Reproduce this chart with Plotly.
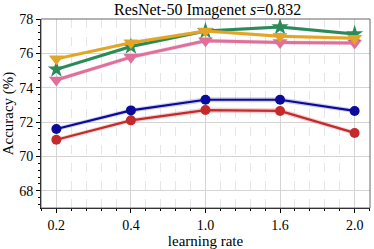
import plotly.graph_objects as go

lr_labels = ["0.2", "0.4", "1.0", "1.6", "2.0"]
x_idx = [0, 1, 2, 3, 4]

blue_vals = [71.6, 72.68, 73.3, 73.3, 72.65]
blue_std = [0.12, 0.12, 0.15, 0.15, 0.12]
red_vals = [70.97, 72.1, 72.7, 72.65, 71.37]
red_std = [0.12, 0.12, 0.15, 0.15, 0.12]
pink_vals = [74.45, 75.78, 76.73, 76.63, 76.6]
pink_std = [0.12, 0.12, 0.12, 0.12, 0.12]
green_vals = [75.07, 76.4, 77.3, 77.53, 77.13]
green_std = [0.1, 0.1, 0.1, 0.1, 0.1]
orange_vals = [75.68, 76.62, 77.3, 77.0, 76.88]
orange_std = [0.1, 0.1, 0.1, 0.1, 0.1]

series = [
    (red_vals, red_std, "#c42a2a", "rgba(196,42,42,0.22)", "circle", 10, 2.2),
    (blue_vals, blue_std, "#0a0a9c", "rgba(10,10,156,0.2)", "circle", 10, 2.2),
    (pink_vals, pink_std, "#e06f9a", "rgba(224,111,154,0.25)", "triangle-down", 13, 3),
    (green_vals, green_std, "#2a8a5a", "rgba(42,138,90,0.2)", "star", 13, 3),
    (orange_vals, orange_std, "#e3a526", "rgba(227,165,38,0.25)", "triangle-down", 13, 3),
]

fig = go.Figure()
for vals, std, col, fcol, sym, msize, lw in series:
    upper = [v + s for v, s in zip(vals, std)]
    lower = [v - s for v, s in zip(vals, std)]
    fig.add_trace(go.Scatter(
        x=x_idx + x_idx[::-1], y=upper + lower[::-1],
        fill="toself", fillcolor=fcol, line=dict(width=0),
        mode="lines", hoverinfo="skip", showlegend=False))
    fig.add_trace(go.Scatter(
        x=x_idx, y=vals, mode="lines+markers",
        line=dict(color=col, width=lw),
        marker=dict(symbol=sym, size=msize, color=col, line=dict(width=0)),
        showlegend=False))

font_family = "Liberation Serif, Times New Roman, serif"
fig.update_layout(
    width=374, height=249,
    margin=dict(l=41, r=4, t=19, b=41, autoexpand=False),
    paper_bgcolor="white", plot_bgcolor="white",
    font=dict(family=font_family, size=14, color="black"),
    title=dict(text="ResNet-50 Imagenet <i>s</i>=0.832", x=0.555, xanchor="center",
               y=0.985, yanchor="top", font=dict(size=16, family=font_family)),
)
fig.update_xaxes(
    range=[-0.206, 4.206], tickvals=x_idx, ticktext=lr_labels,
    showgrid=True, gridcolor="#d4d4d4", gridwidth=1,
    ticks="outside", ticklen=4, tickcolor="black",
    showline=True, linecolor="black", linewidth=1, mirror=False,
    zeroline=False,
    minor=dict(dtick=0.2, tick0=0, showgrid=True, gridcolor="#e6e6e6", griddash="dash",
               ticks="outside", ticklen=2, tickcolor="black"),
    title=dict(text="learning rate", font=dict(size=15), standoff=2),
    tickfont=dict(size=14),
)
fig.update_yaxes(
    range=[67, 78], tickvals=[68, 70, 72, 74, 76, 78],
    showgrid=True, gridcolor="#d4d4d4", gridwidth=1,
    ticks="outside", ticklen=4, tickcolor="black",
    showline=True, linecolor="black", linewidth=1,
    zeroline=False,
    minor=dict(dtick=0.4, tick0=68, showgrid=False, ticks="outside", ticklen=2, tickcolor="black"),
    title=dict(text="Accuracy (%)", font=dict(size=15), standoff=2),
    tickfont=dict(size=14),
)
# top/right frame
fig.add_shape(type="rect", xref="paper", yref="paper", x0=0, y0=0, x1=1, y1=1,
              line=dict(color="#666666", width=1), layer="above")

fig.write_html("out.html", config={"displayModeBar": False},
               post_script="document.body.style.margin='0';")
